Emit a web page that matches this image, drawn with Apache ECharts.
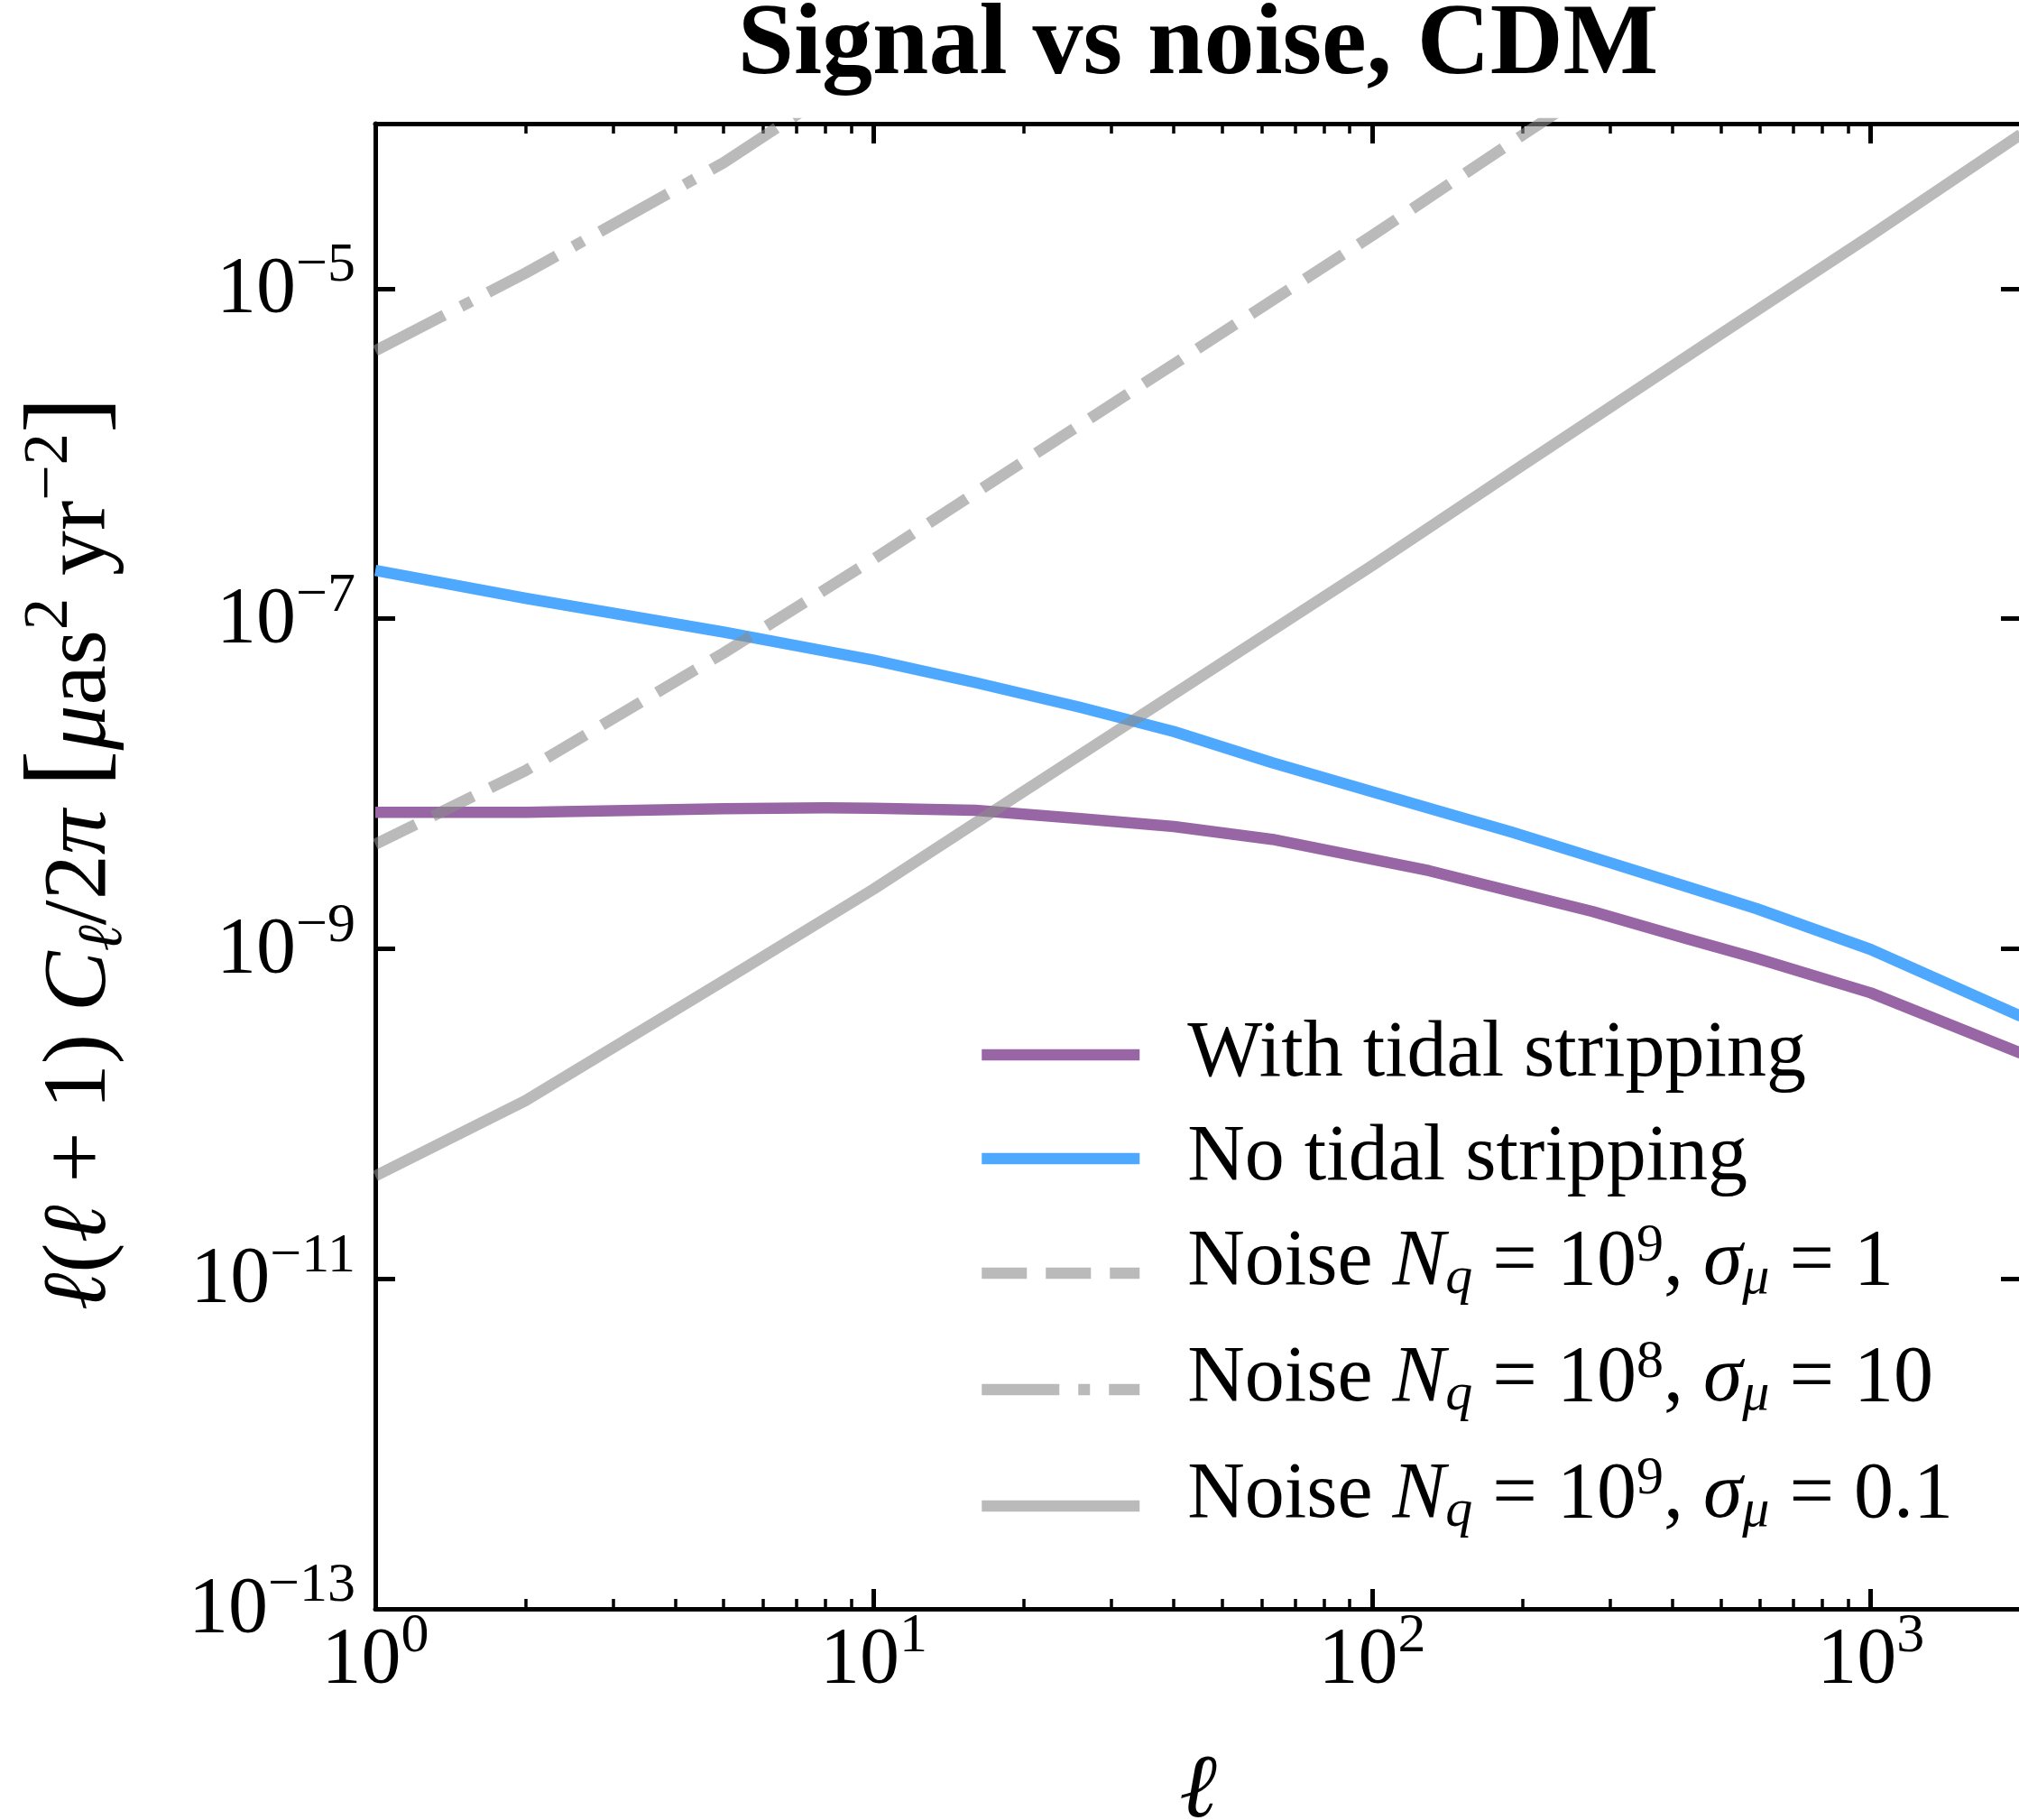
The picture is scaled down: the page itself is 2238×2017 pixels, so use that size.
<!DOCTYPE html>
<html>
<head>
<meta charset="utf-8">
<script src="https://cdn.jsdelivr.net/npm/echarts@6/dist/echarts.min.js"></script>
<style>
  html, body { margin: 0; padding: 0; background: #fff; }
  #chart { width: 2238px; height: 2017px; }
</style>
</head>
<body>
<div id="chart"></div>
<script>
// Multipoles at which the two signal spectra are sampled
const ellSignal = [1, 2, 5, 8, 10, 16, 26, 40, 63, 130, 190, 277, 424, 590, 1000, 2000];
// l(l+1) C_l / 2pi  [muas^2 yr^-2]
const withTidalStripping = [6.7e-9, 6.7e-9, 7.05e-9, 7.15e-9, 7.1e-9, 6.9e-9, 6.15e-9, 5.5e-9,
  4.6e-9, 2.97e-9, 2.23e-9, 1.68e-9, 1.16e-9, 8.75e-10, 5.4e-10, 2.33e-10];
const noTidalStripping = [1.96e-7, 1.33e-7, 8.3e-8, 6.36e-8, 5.6e-8, 4.1e-8, 2.9e-8, 2.07e-8,
  1.34e-8, 7.1e-9, 5.1e-9, 3.58e-9, 2.4e-9, 1.75e-9, 9.9e-10, 3.9e-10];

// Multipoles at which the noise curves are sampled
const ellNoise = [1, 2, 5, 10, 20, 50, 100, 200, 500, 1000, 2000];
const noiseNq9Sigma1 = [4.3e-9, 1.2e-8, 6.2e-8, 2.3e-7, 9.0e-7, 5.4e-6, 2.1e-5, 8.5e-5, 5.3e-4];
const noiseNq8Sigma10 = [4.2e-6, 1.24e-5, 5.8e-5, 2.3e-4];
const noiseNq9Sigma01 = [4.2e-11, 1.2e-10, 6.4e-10, 2.3e-9, 9.0e-9, 5.4e-8, 2.1e-7, 8.5e-7, 5.3e-6, 2.1e-5, 8.6e-5];

// Series names and the noise parameters shown in the legend
const signalNames = ['With tidal stripping', 'No tidal stripping'];
const noiseNames = ['Noise Nq=1e9, sigma=1', 'Noise Nq=1e8, sigma=10', 'Noise Nq=1e9, sigma=0.1'];
const noiseNqExponent = ['9', '8', '9'];
const noiseSigma = ['1', '10', '0.1'];

// Axis ticks
const xMajorTicks = [1, 10, 100, 1000];
const xMinorTicks = [2, 3, 4, 5, 6, 7, 8, 9, 20, 30, 40, 50, 60, 70, 80, 90,
  200, 300, 400, 500, 600, 700, 800, 900, 2000];
const yMajorTicks = [1e-13, 1e-11, 1e-9, 1e-7, 1e-5];

const SERIF = "'Liberation Serif', 'DejaVu Serif', serif";
const PURPLE = '#9865a5';
const BLUE = '#4ea8fe';
const GREY = 'rgba(140,140,140,0.6)';
const LW = 12.5;

// Rich-text styles for inline math: every token sits in a line of height H,
// its glyph centre offset from the line centre by c (negative = up).
function mathRich(F, S, H, cBase, cSup, cSub, extra) {
  const tok = (size, c, more) => Object.assign({
    fontFamily: SERIF, fontSize: size, color: '#000',
    height: size, lineHeight: H, verticalAlign: 'top',
    padding: [Math.max(0, Math.round(c + H / 2 - size / 2)), 0, 0, 0]
  }, more || {});
  const r = {
    n: tok(F, cBase),
    i: tok(F, cBase, { fontStyle: 'italic' }),
    sup: tok(S, cSup),
    sub: tok(S, cSub, { fontStyle: 'italic' })
  };
  if (extra) {
    Object.keys(extra).forEach(k => { r[k] = tok(extra[k].size, extra[k].c, extra[k].more); });
  }
  return r;
}

const tickRich = mathRich(88, 62, 112, 2, -25, 10);
const legendRich = mathRich(88, 60, 120, -11, -30, 6.4);
const yNameRich = mathRich(100, 70, 152, 0, -34, 26, { br: { size: 122, c: -10 } });

function powerLabel(v) {
  const e = Math.round(Math.log10(v));
  return '{n|10}{sup|' + (e < 0 ? '\u2212' + (-e) : String(e)) + '}';
}

function noiseLegendText(k) {
  return '{n|Noise }{i|N}{sub|q}{n| = 10}{sup|' + noiseNqExponent[k] + '}{n|, }{i|\u03c3}{sub|\u03bc}{n| = ' + noiseSigma[k] + '}';
}

function pairs(xs, ys) {
  const out = [];
  for (let k = 0; k < Math.min(xs.length, ys.length); k++) out.push([xs[k], ys[k]]);
  return out;
}

const axisBase = {
  type: 'log', logBase: 10,
  splitLine: { show: false },
  minorTick: { show: false },
  minorSplitLine: { show: false },
  axisPointer: { show: false }
};
const spine = { show: true, onZero: false, lineStyle: { color: '#000', width: 5 } };
const majorTick = (vals) => ({ show: true, inside: true, length: 22, customValues: vals, lineStyle: { color: '#000', width: 5 } });
const minorTickCfg = (vals) => ({ show: true, inside: true, length: 11, customValues: vals, lineStyle: { color: '#000', width: 3.5 } });

const xRange = { min: 1, max: 2000 };
const yRange = { min: 1e-13, max: 1e-4 };

const option = {
  animation: false,
  backgroundColor: '#fff',
  textStyle: { fontFamily: SERIF },
  title: {
    text: 'Signal vs noise, CDM',
    left: 1328, top: -4, textAlign: 'center', padding: 0,
    textStyle: { fontFamily: SERIF, fontWeight: 'bold', fontSize: 112, color: '#000' }
  },
  grid: { left: 416, top: 137, width: 1824, height: 1646, containLabel: false, outerBoundsMode: 'none' },
  legend: [
    {
      data: signalNames,
      orient: 'vertical', left: 1082, top: 1125, padding: 0, itemGap: 27,
      itemWidth: 175, itemHeight: 14, selectedMode: false,
      itemStyle: { opacity: 0 },
      lineStyle: { width: LW },
      textStyle: { fontFamily: SERIF, fontSize: 88, lineHeight: 86, color: '#000', padding: [0, 0, 0, 48] }
    },
    {
      data: noiseNames,
      orient: 'vertical', left: 1082, top: 1351, padding: 0, itemGap: 33,
      itemWidth: 175, itemHeight: 14, selectedMode: false,
      itemStyle: { opacity: 0 },
      lineStyle: { width: LW },
      formatter: (name) => noiseLegendText(noiseNames.indexOf(name)),
      textStyle: { fontFamily: SERIF, fontSize: 88, color: '#000', padding: [0, 0, 0, 48], rich: legendRich }
    }
  ],
  xAxis: [
    Object.assign({}, axisBase, xRange, {
      position: 'bottom',
      axisLine: spine,
      axisTick: majorTick(xMajorTicks),
      axisLabel: { customValues: xMajorTicks, formatter: powerLabel, margin: 0, rich: tickRich },
      name: '\u2113', nameLocation: 'middle', nameGap: 154,
      nameTextStyle: { fontFamily: SERIF, fontStyle: 'italic', fontSize: 100, lineHeight: 100, color: '#000' }
    }),
    Object.assign({}, axisBase, xRange, {
      position: 'bottom', axisLine: { show: false },
      axisTick: minorTickCfg(xMinorTicks), axisLabel: { show: false }
    }),
    Object.assign({}, axisBase, xRange, {
      position: 'top', axisLine: spine,
      axisTick: majorTick(xMajorTicks), axisLabel: { show: false }
    }),
    Object.assign({}, axisBase, xRange, {
      position: 'top', axisLine: { show: false },
      axisTick: minorTickCfg(xMinorTicks), axisLabel: { show: false }
    })
  ],
  yAxis: [
    Object.assign({}, axisBase, yRange, {
      position: 'left',
      axisLine: spine,
      axisTick: majorTick(yMajorTicks),
      axisLabel: { customValues: yMajorTicks, formatter: powerLabel, margin: 22, rich: tickRich },
      name: '{i|\u2113}{n|(}{i|\u2113}{n| + 1) }{i|C}{sub|\u2113}{n|/2}{i|\u03c0}{n| }{br|[}{i|\u03bc}{n|as}{sup|2}{n| yr}{sup|\u22122}{br|]}',
      nameLocation: 'middle', nameGap: 250, nameRotate: 90,
      nameTextStyle: { fontFamily: SERIF, fontSize: 100, color: '#000', padding: [0, 0, 0, 28], rich: yNameRich }
    }),
    Object.assign({}, axisBase, yRange, {
      position: 'right',
      axisLine: spine,
      axisTick: majorTick(yMajorTicks),
      axisLabel: { show: false }
    })
  ],
  series: [
    {
      name: signalNames[0], type: 'line', xAxisIndex: 0, yAxisIndex: 0,
      data: pairs(ellSignal, withTidalStripping), symbol: 'none', clip: true,
      lineStyle: { color: PURPLE, width: LW, join: 'round' }, itemStyle: { color: PURPLE }
    },
    {
      name: signalNames[1], type: 'line', xAxisIndex: 0, yAxisIndex: 0,
      data: pairs(ellSignal, noTidalStripping), symbol: 'none', clip: true,
      lineStyle: { color: BLUE, width: LW, join: 'round' }, itemStyle: { color: BLUE }
    },
    {
      name: noiseNames[0], type: 'line', xAxisIndex: 0, yAxisIndex: 0,
      data: pairs(ellNoise, noiseNq9Sigma1), symbol: 'none', clip: true,
      lineStyle: { color: GREY, width: LW, type: [50, 21] }, itemStyle: { color: GREY }
    },
    {
      name: noiseNames[1], type: 'line', xAxisIndex: 0, yAxisIndex: 0,
      data: pairs(ellNoise, noiseNq8Sigma10), symbol: 'none', clip: true,
      lineStyle: { color: GREY, width: LW, type: [86, 21, 13, 21] }, itemStyle: { color: GREY }
    },
    {
      name: noiseNames[2], type: 'line', xAxisIndex: 0, yAxisIndex: 0,
      data: pairs(ellNoise, noiseNq9Sigma01), symbol: 'none', clip: true,
      lineStyle: { color: GREY, width: LW, join: 'round' }, itemStyle: { color: GREY }
    }
  ]
};

const chart = echarts.init(document.getElementById('chart'), null, { renderer: 'canvas' });
chart.setOption(option);
</script>
</body>
</html>
